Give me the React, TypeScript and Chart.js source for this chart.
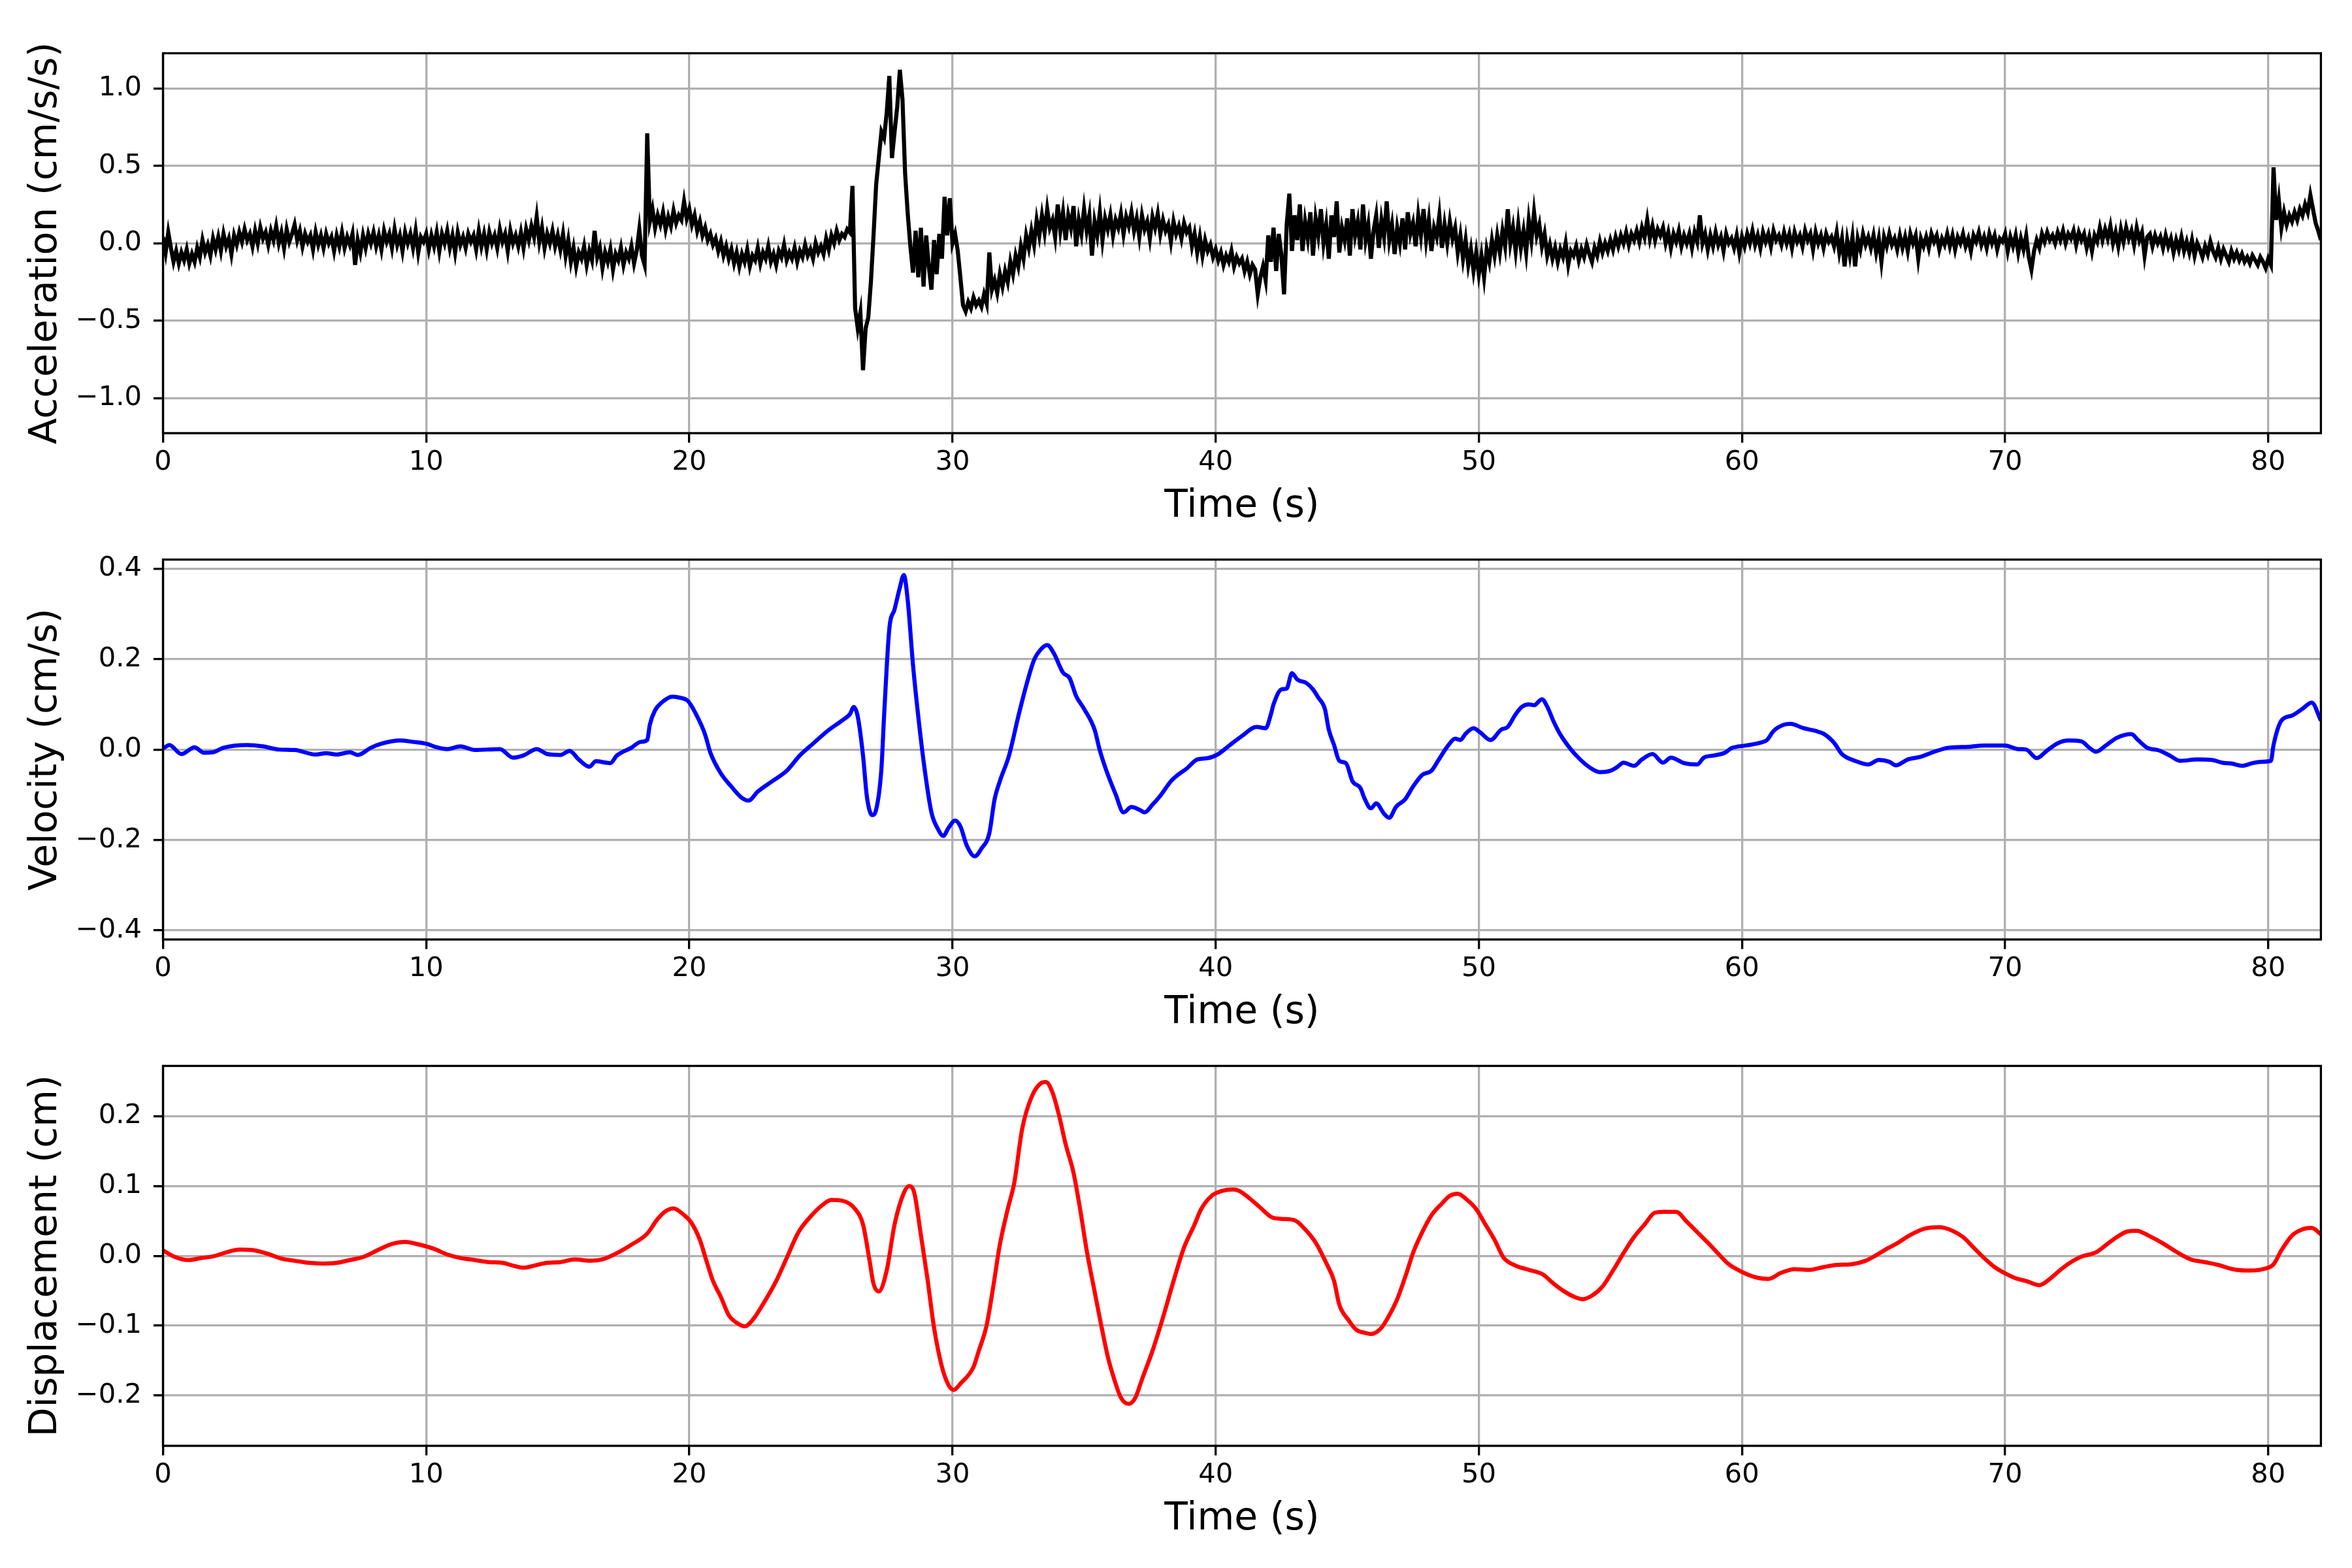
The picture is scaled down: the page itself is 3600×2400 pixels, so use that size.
import React, { useEffect, useRef } from 'react';
import { Chart, registerables } from 'chart.js';

Chart.register(...registerables);

// acceleration is sampled every 0.1 s from 0 to 82 s (one row = one second)
const accStep = 0.1;
const accValues = [
  0.04, -0.06, 0.07, -0.03, -0.12, -0.05, -0.13, -0.06, -0.11, -0.04,
  -0.13, -0.07, -0.12, -0.03, -0.09, 0.02, -0.06, -0.01, -0.08, 0.03,
  -0.04, 0.04, -0.05, 0.06, -0.02, 0.03, -0.07, 0.05, -0.01, 0.07,
  0.01, 0.09, 0.02, 0.06, -0.02, 0.08, 0.00, 0.10, 0.03, 0.07,
  -0.01, 0.08, 0.02, 0.11, 0.00, 0.07, -0.03, 0.09, 0.01, 0.06,
  0.12, 0.02, 0.08, -0.02, 0.06, 0.01, 0.05, -0.04, 0.07, -0.01,
  0.05, -0.03, 0.06, 0.00, 0.04, -0.05, 0.05, -0.02, 0.07, -0.03,
  0.04, -0.01, 0.06, -0.14, 0.02, -0.06, 0.05, -0.03, 0.06, 0.00,
  0.07, -0.02, 0.05, -0.04, 0.08, 0.01, 0.06, -0.03, 0.09, -0.01,
  0.05, -0.05, 0.07, 0.00, 0.06, -0.03, 0.08, -0.06, 0.04, 0.01,
  0.06, -0.04, 0.05, -0.02, 0.07, -0.05, 0.06, 0.00, 0.08, -0.03,
  0.05, -0.06, 0.07, -0.01, 0.04, -0.03, 0.06, 0.01, 0.05, -0.04,
  0.08, -0.02, 0.06, -0.04, 0.07, 0.00, 0.05, -0.03, 0.09, 0.01,
  0.06, -0.05, 0.08, 0.00, 0.05, -0.02, 0.07, -0.03, 0.09, 0.02,
  0.11, 0.04, 0.17, 0.01, 0.10, -0.03, 0.06, 0.00, 0.08, -0.02,
  0.05, -0.04, 0.06, -0.08, 0.02, -0.12, -0.03, -0.15, -0.06, -0.10,
  -0.02, -0.14, -0.05, -0.11, 0.08, -0.09, -0.03, -0.16, -0.06, -0.12,
  -0.04, -0.17, -0.07, -0.11, -0.03, -0.14, -0.06, -0.10, -0.02, -0.13,
  -0.05, 0.09, -0.08, -0.14, 0.71, 0.14, 0.22, 0.10, 0.18, 0.12,
  0.20, 0.09, 0.17, 0.11, 0.21, 0.13, 0.18, 0.15, 0.27, 0.16,
  0.22, 0.12, 0.18, 0.08, 0.14, 0.05, 0.10, 0.02, 0.06, -0.01,
  0.03, -0.05, 0.01, -0.08, -0.02, -0.10, -0.04, -0.13, -0.06, -0.15,
  -0.07, -0.12, -0.04, -0.15, -0.08, -0.11, -0.03, -0.13, -0.06, -0.10,
  -0.02, -0.12, -0.07, -0.14, -0.05, -0.09, -0.01, -0.11, -0.06, -0.10,
  -0.03, -0.12, -0.05, -0.09, -0.01, -0.08, -0.04, -0.10, 0.00, -0.06,
  -0.02, -0.07, 0.03, -0.04, 0.05, 0.00, 0.08, 0.02, 0.06, 0.04,
  0.09, 0.07, 0.37, -0.42, -0.55, -0.45, -0.82, -0.55, -0.48, -0.25,
  0.05, 0.38, 0.55, 0.72, 0.68, 0.84, 1.08, 0.55, 0.72, 0.88,
  1.12, 0.93, 0.45, 0.19, -0.02, -0.19, 0.08, -0.22, 0.10, -0.28,
  0.05, -0.15, -0.30, 0.02, -0.20, 0.06, -0.10, 0.30, 0.05, 0.29,
  0.00, 0.06, -0.05, -0.22, -0.40, -0.44, -0.38, -0.42, -0.35, -0.40,
  -0.37, -0.41, -0.33, -0.39, -0.06, -0.30, -0.24, -0.32, -0.20, -0.28,
  -0.18, -0.25, -0.12, -0.20, -0.08, -0.15, -0.02, -0.10, 0.05, -0.03,
  0.08, -0.01, 0.15, 0.05, 0.18, 0.07, 0.22, 0.10, 0.15, 0.04,
  0.25, 0.08, 0.20, 0.02, 0.18, 0.10, 0.24, -0.02, 0.15, 0.06,
  0.22, 0.08, 0.18, -0.08, 0.14, 0.05, 0.20, 0.02, 0.16, 0.09,
  0.18, 0.05, 0.15, 0.10, 0.19, 0.06, 0.17, 0.11, 0.20, 0.08,
  0.16, 0.04, 0.18, 0.09, 0.14, 0.03, 0.17, 0.10, 0.19, 0.06,
  0.15, 0.08, 0.12, 0.01, 0.14, 0.06, 0.11, 0.03, 0.13, 0.07,
  0.10, -0.02, 0.06, -0.06, 0.04, -0.08, 0.02, -0.05, -0.01, -0.09,
  -0.04, -0.11, -0.06, -0.14, -0.08, -0.12, -0.05, -0.15, -0.09, -0.13,
  -0.10, -0.18, -0.12, -0.20, -0.14, -0.17, -0.33, -0.22, -0.15, -0.24,
  0.05, -0.12, 0.10, -0.18, 0.06, -0.08, -0.33, 0.12, 0.32, -0.05,
  0.18, 0.02, 0.25, -0.05, 0.14, 0.03, 0.20, -0.08, 0.16, 0.05,
  0.22, 0.00, 0.12, -0.10, 0.18, 0.04, 0.27, -0.06, 0.10, 0.02,
  0.16, -0.08, 0.22, 0.05, 0.14, -0.04, 0.25, 0.02, 0.12, -0.10,
  0.08, 0.18, -0.03, 0.15, 0.04, 0.27, 0.02, 0.12, -0.07, 0.10,
  0.00, 0.16, -0.04, 0.20, 0.06, 0.13, -0.02, 0.18, 0.05, 0.22,
  0.02, 0.15, -0.05, 0.10, 0.04, 0.18, -0.03, 0.12, 0.00, 0.14,
  0.03, 0.10, -0.06, 0.05, -0.10, 0.02, -0.14, -0.04, -0.18, -0.06,
  -0.20, -0.08, -0.22, -0.04, -0.12, 0.02, -0.08, 0.05, -0.06, 0.08,
  -0.02, 0.22, 0.00, 0.10, -0.05, 0.12, -0.03, 0.08, -0.06, 0.15,
  0.02, 0.20, 0.05, 0.12, -0.02, 0.06, -0.08, -0.01, -0.10, -0.03,
  -0.12, -0.04, -0.09, 0.00, -0.14, -0.05, -0.08, -0.02, -0.11, -0.04,
  -0.09, -0.01, -0.07, -0.12, -0.03, -0.08, 0.01, -0.06, 0.00, -0.05,
  0.02, -0.04, 0.04, -0.02, 0.05, 0.00, 0.07, -0.01, 0.06, 0.02,
  0.08, 0.01, 0.10, 0.04, 0.15, 0.03, 0.11, 0.02, 0.09, 0.05,
  0.10, 0.00, 0.07, -0.03, 0.06, 0.01, 0.08, -0.02, 0.05, 0.00,
  0.06, -0.03, 0.07, 0.01, 0.18, 0.00, 0.06, -0.04, 0.05, -0.02,
  0.07, -0.01, 0.04, -0.05, 0.06, 0.00, 0.03, -0.03, 0.05, -0.06,
  0.04, -0.02, 0.06, 0.00, 0.08, -0.01, 0.05, -0.03, 0.07, 0.01,
  0.06, -0.02, 0.08, 0.02, 0.05, -0.01, 0.07, 0.00, 0.06, -0.03,
  0.07, 0.01, 0.05, -0.02, 0.08, 0.02, 0.06, -0.04, 0.07, 0.00,
  0.05, -0.03, 0.06, 0.01, 0.04, -0.02, 0.07, -0.06, 0.03, -0.15,
  0.02, -0.08, 0.04, -0.15, 0.03, -0.04, 0.06, -0.01, 0.04, -0.03,
  0.05, -0.06, 0.03, -0.12, 0.04, -0.02, 0.06, -0.01, 0.03, -0.04,
  0.05, -0.03, 0.04, -0.05, 0.06, 0.00, 0.05, -0.10, 0.03, -0.02,
  0.04, -0.03, 0.06, 0.01, 0.05, -0.04, 0.03, -0.01, 0.06, -0.02,
  0.05, -0.04, 0.04, 0.00, 0.06, -0.02, 0.03, -0.05, 0.05, 0.01,
  0.07, -0.01, 0.04, -0.03, 0.06, 0.00, 0.05, -0.04, 0.03, 0.01,
  0.06, -0.05, 0.04, -0.02, 0.05, -0.06, 0.03, -0.04, 0.05, -0.09,
  -0.17, -0.05, 0.02, -0.03, 0.06, 0.01, 0.07, 0.02, 0.05, 0.00,
  0.07, 0.02, 0.08, 0.00, 0.06, 0.03, 0.08, -0.01, 0.07, 0.02,
  0.06, -0.03, 0.04, -0.05, 0.05, 0.01, 0.10, 0.02, 0.09, 0.03,
  0.11, 0.00, 0.07, -0.02, 0.09, 0.01, 0.10, 0.03, 0.08, -0.01,
  0.10, 0.02, 0.07, -0.08, 0.04, 0.06, -0.02, 0.05, 0.00, 0.04,
  -0.03, 0.05, -0.02, 0.03, -0.06, 0.02, -0.04, 0.04, -0.05, 0.01,
  -0.06, 0.02, -0.08, 0.00, -0.04, -0.09, -0.02, -0.07, 0.01, -0.05,
  -0.09, -0.03, -0.10, -0.04, -0.08, -0.12, -0.05, -0.10, -0.06, -0.11,
  -0.07, -0.12, -0.09, -0.13, -0.08, -0.11, -0.14, -0.09, -0.12, -0.16,
  -0.10, -0.14, 0.49, 0.15, 0.28, 0.10, 0.20, 0.12, 0.18, 0.14,
  0.20, 0.15, 0.22, 0.18, 0.25, 0.20, 0.31, 0.22, 0.13, 0.08,
  0.02,
];

// [time (s), velocity (cm/s)]
const velPoints: [number, number][] = [
  [0, 0.002], [0.24, 0.01], [0.7, -0.01], [1.2, 0.005], [1.55, -0.007], [1.9, -0.006],
  [2.3, 0.004], [3.2, 0.01], [3.8, 0.007], [4.4, 0.0], [5.0, -0.001], [5.8, -0.011],
  [6.2, -0.008], [6.6, -0.011], [7.1, -0.006], [7.4, -0.012], [7.9, 0.004], [8.3, 0.013],
  [9.0, 0.02], [9.5, 0.017], [10.0, 0.013], [10.4, 0.005], [10.8, 0.001], [11.3, 0.007],
  [11.85, -0.001], [12.8, 0.001], [13.3, -0.018], [13.7, -0.013], [14.2, 0.001], [14.6, -0.01],
  [15.1, -0.012], [15.45, -0.003], [15.8, -0.022], [16.2, -0.038], [16.45, -0.026], [17.0, -0.03],
  [17.25, -0.013], [17.8, 0.004], [18.15, 0.017], [18.4, 0.021], [18.5, 0.055], [18.7, 0.087],
  [18.95, 0.104], [19.35, 0.117], [19.6, 0.115], [19.95, 0.107], [20.3, 0.073], [20.6, 0.033],
  [20.8, -0.007], [21.2, -0.053], [21.6, -0.082], [22.0, -0.107], [22.25, -0.113], [22.6, -0.093],
  [23.15, -0.07], [23.7, -0.047], [24.2, -0.013], [24.7, 0.013], [25.25, 0.041], [25.8, 0.064],
  [26.1, 0.078], [26.25, 0.094], [26.4, 0.073], [26.6, -0.013], [26.75, -0.105], [26.95, -0.145],
  [27.1, -0.133], [27.3, -0.042], [27.4, 0.073], [27.6, 0.267], [27.8, 0.31], [28.0, 0.358],
  [28.15, 0.386], [28.3, 0.33], [28.5, 0.187], [28.7, 0.073], [28.95, -0.047], [29.2, -0.139],
  [29.45, -0.176], [29.65, -0.191], [29.85, -0.173], [30.1, -0.157], [30.3, -0.17], [30.55, -0.213],
  [30.85, -0.236], [31.1, -0.219], [31.4, -0.185], [31.6, -0.11], [31.8, -0.07], [32.15, -0.013],
  [32.5, 0.073], [32.8, 0.141], [33.1, 0.198], [33.4, 0.224], [33.6, 0.231], [33.85, 0.213],
  [34.2, 0.17], [34.45, 0.158], [34.7, 0.118], [35.0, 0.09], [35.4, 0.044], [35.6, -0.002],
  [35.85, -0.047], [36.2, -0.099], [36.5, -0.139], [36.8, -0.127], [37.1, -0.133], [37.3, -0.139],
  [37.6, -0.122], [37.9, -0.102], [38.3, -0.07], [38.5, -0.059], [38.9, -0.042], [39.3, -0.022],
  [39.7, -0.019], [40.1, -0.01], [40.5, 0.008], [41.0, 0.03], [41.55, 0.05], [41.9, 0.047],
  [42.1, 0.078], [42.2, 0.1], [42.5, 0.133], [42.7, 0.135], [42.9, 0.169], [43.1, 0.155],
  [43.45, 0.147], [43.7, 0.133], [43.9, 0.115], [44.15, 0.09], [44.3, 0.044], [44.5, 0.01],
  [44.7, -0.025], [44.95, -0.03], [45.2, -0.07], [45.5, -0.085], [45.65, -0.107], [45.9, -0.13],
  [46.1, -0.119], [46.4, -0.142], [46.6, -0.151], [46.85, -0.127], [47.2, -0.11], [47.5, -0.082],
  [47.85, -0.056], [48.2, -0.047], [48.45, -0.025], [48.85, 0.01], [49.1, 0.024], [49.3, 0.021],
  [49.5, 0.035], [49.8, 0.047], [50.05, 0.038], [50.45, 0.021], [50.85, 0.044], [51.1, 0.05],
  [51.4, 0.078], [51.65, 0.095], [51.9, 0.1], [52.1, 0.098], [52.4, 0.111], [52.6, 0.095],
  [52.85, 0.061], [53.1, 0.033], [53.45, 0.004], [53.8, -0.019], [54.2, -0.039], [54.6, -0.05],
  [55.0, -0.047], [55.25, -0.039], [55.5, -0.029], [55.9, -0.036], [56.2, -0.022], [56.6, -0.01],
  [57.0, -0.029], [57.3, -0.018], [57.8, -0.03], [58.3, -0.033], [58.55, -0.018], [58.95, -0.013],
  [59.35, -0.007], [59.6, 0.003], [60.15, 0.009], [60.7, 0.015], [60.95, 0.021], [61.2, 0.041],
  [61.6, 0.055], [61.85, 0.057], [62.3, 0.048], [62.8, 0.041], [63.1, 0.035], [63.5, 0.015],
  [63.8, -0.01], [64.3, -0.025], [64.8, -0.033], [65.2, -0.023], [65.6, -0.027], [65.85, -0.035],
  [66.3, -0.022], [66.8, -0.016], [67.3, -0.005], [67.85, 0.004], [68.6, 0.006], [69.2, 0.009],
  [70.0, 0.009], [70.5, 0.001], [70.8, 0.0], [71.2, -0.019], [71.6, -0.002], [72.0, 0.014],
  [72.4, 0.02], [72.9, 0.018], [73.2, 0.004], [73.45, -0.005], [73.85, 0.01], [74.25, 0.026],
  [74.8, 0.034], [75.05, 0.021], [75.4, 0.004], [75.85, -0.002], [76.25, -0.013], [76.65, -0.025],
  [77.3, -0.022], [77.85, -0.023], [78.25, -0.029], [78.6, -0.031], [79.0, -0.036], [79.4, -0.03],
  [79.8, -0.027], [80.1, -0.025], [80.2, 0.01], [80.5, 0.064], [80.9, 0.075], [81.3, 0.09],
  [81.65, 0.104], [82.0, 0.064],
];

// [time (s), displacement (cm)]
const dispPoints: [number, number][] = [
  [0, 0.008], [0.42, -0.001], [0.95, -0.006], [1.47, -0.003], [1.87, -0.001], [2.4, 0.005],
  [2.9, 0.009], [3.45, 0.008], [3.97, 0.003], [4.5, -0.004], [5.0, -0.007], [5.55, -0.01],
  [6.07, -0.011], [6.6, -0.01], [7.1, -0.006], [7.65, -0.001], [8.2, 0.009], [8.7, 0.017],
  [9.2, 0.02], [9.75, 0.016], [10.3, 0.01], [10.8, 0.002], [11.3, -0.003], [11.85, -0.006],
  [12.4, -0.009], [12.9, -0.01], [13.3, -0.014], [13.7, -0.017], [14.1, -0.014], [14.6, -0.01],
  [15.1, -0.009], [15.65, -0.005], [16.2, -0.007], [16.7, -0.005], [17.25, 0.004], [17.8, 0.016],
  [18.4, 0.032], [18.8, 0.053], [19.1, 0.064], [19.4, 0.068], [19.75, 0.06], [20.05, 0.049],
  [20.4, 0.023], [20.65, -0.007], [20.9, -0.036], [21.2, -0.059], [21.5, -0.085], [21.85, -0.097],
  [22.1, -0.101], [22.4, -0.092], [22.85, -0.066], [23.3, -0.036], [23.7, -0.003], [24.15, 0.034],
  [24.6, 0.056], [25.0, 0.071], [25.4, 0.08], [25.8, 0.079], [26.3, 0.067], [26.6, 0.045],
  [26.85, -0.007], [27.0, -0.04], [27.2, -0.051], [27.5, -0.021], [27.8, 0.045], [28.15, 0.09],
  [28.35, 0.1], [28.55, 0.09], [28.8, 0.03], [29.05, -0.033], [29.3, -0.103], [29.6, -0.159],
  [29.85, -0.185], [30.05, -0.192], [30.3, -0.183], [30.8, -0.159], [31.0, -0.136], [31.3, -0.099],
  [31.55, -0.044], [31.8, 0.016], [32.1, 0.067], [32.35, 0.105], [32.65, 0.182], [33.0, 0.227],
  [33.35, 0.247], [33.55, 0.249], [33.8, 0.234], [34.05, 0.201], [34.3, 0.16], [34.6, 0.119],
  [34.85, 0.067], [35.1, 0.008], [35.4, -0.051], [35.65, -0.099], [35.9, -0.144], [36.15, -0.177],
  [36.4, -0.203], [36.7, -0.212], [36.95, -0.203], [37.2, -0.177], [37.6, -0.136], [38.0, -0.088],
  [38.4, -0.036], [38.8, 0.012], [39.2, 0.045], [39.45, 0.067], [39.85, 0.086], [40.25, 0.093],
  [40.65, 0.095], [40.9, 0.093], [41.3, 0.082], [41.7, 0.069], [42.1, 0.056], [42.5, 0.053],
  [43.0, 0.051], [43.4, 0.038], [43.8, 0.019], [44.2, -0.01], [44.5, -0.036], [44.7, -0.07],
  [45.05, -0.092], [45.35, -0.106], [45.65, -0.11], [45.9, -0.112], [46.3, -0.103], [46.6, -0.085],
  [46.9, -0.062], [47.25, -0.025], [47.5, 0.004], [47.8, 0.03], [48.2, 0.058], [48.6, 0.075],
  [48.9, 0.086], [49.2, 0.089], [49.5, 0.082], [49.9, 0.067], [50.25, 0.045], [50.6, 0.023],
  [50.95, -0.003], [51.4, -0.014], [51.9, -0.02], [52.45, -0.027], [52.85, -0.04], [53.25, -0.051],
  [53.65, -0.059], [53.95, -0.062], [54.3, -0.057], [54.7, -0.044], [55.1, -0.021], [55.5, 0.004],
  [55.9, 0.027], [56.3, 0.045], [56.7, 0.062], [57.1, 0.063], [57.5, 0.063], [57.9, 0.049],
  [58.3, 0.034], [58.7, 0.019], [59.1, 0.003], [59.5, -0.012], [60.0, -0.023], [60.55, -0.031],
  [61.0, -0.033], [61.5, -0.024], [62.0, -0.019], [62.55, -0.02], [63.1, -0.016], [63.6, -0.013],
  [64.15, -0.012], [64.7, -0.007], [65.1, 0.001], [65.5, 0.01], [65.85, 0.017], [66.4, 0.03],
  [66.95, 0.039], [67.5, 0.041], [68.0, 0.036], [68.4, 0.027], [68.8, 0.012], [69.2, -0.003],
  [69.6, -0.016], [70.0, -0.025], [70.4, -0.032], [70.8, -0.036], [71.3, -0.042], [71.7, -0.033],
  [72.1, -0.02], [72.5, -0.009], [72.9, -0.001], [73.45, 0.005], [73.85, 0.016], [74.25, 0.027],
  [74.65, 0.035], [75.0, 0.036], [75.45, 0.029], [75.95, 0.019], [76.5, 0.006], [77.05, -0.005],
  [77.6, -0.009], [78.1, -0.013], [78.65, -0.019], [79.3, -0.021], [79.8, -0.019], [80.2, -0.012],
  [80.5, 0.008], [80.9, 0.029], [81.3, 0.038], [81.65, 0.04], [82.0, 0.031],
];

const timeTicks = [0, 10, 20, 30, 40, 50, 60, 70, 80];
const accTicks = [-1.0, -0.5, 0.0, 0.5, 1.0];
const velTicks = [-0.4, -0.2, 0.0, 0.2, 0.4];
const dispTicks = [-0.2, -0.1, 0.0, 0.1, 0.2];

const PT = 300 / 72; // figure was rendered at 300 dpi
const FONT = "'DejaVu Sans', sans-serif";
const CANVAS_H = 830;

// matplotlib style minus sign on the tick labels
const fmt = (v: number) => {
  const s = v.toFixed(1);
  return s.startsWith('-') ? '\u2212' + s.slice(1) : s;
};

// draws the 4 spines around the plot area, on top of the line
const framePlugin = {
  id: 'frame',
  afterDatasetsDraw(chart: any) {
    const { ctx, chartArea: a } = chart;
    ctx.save();
    ctx.strokeStyle = '#000';
    ctx.lineWidth = 0.8 * PT;
    ctx.strokeRect(a.left, a.top, a.right - a.left, a.bottom - a.top);
    ctx.restore();
  },
};

interface PanelProps {
  top: number;
  data: { x: number; y: number }[];
  color: string;
  yLabel: string;
  yLimit: number;
  yTicks: number[];
  smooth: boolean;
}

function Panel({ top, data, color, yLabel, yLimit, yTicks, smooth }: PanelProps) {
  const canvasRef = useRef<HTMLCanvasElement | null>(null);

  useEffect(() => {
    if (!canvasRef.current) return;
    const grid = {
      color: '#b0b0b0',
      lineWidth: 0.8 * PT,
      tickColor: '#000',
      tickWidth: 0.8 * PT,
      tickLength: 3.5 * PT,
      drawTicks: true,
    };
    const chart = new Chart(canvasRef.current, {
      type: 'line',
      data: {
        datasets: [
          {
            data,
            borderColor: color,
            borderWidth: 1.5 * PT,
            pointRadius: 0,
            fill: false,
            tension: smooth ? 0.4 : 0,
            cubicInterpolationMode: smooth ? 'monotone' : 'default',
          },
        ],
      },
      options: {
        responsive: false,
        animation: false,
        devicePixelRatio: 1,
        events: [],
        layout: { padding: { top: 81.5, right: 47.6, left: 0, bottom: 0 } },
        plugins: { legend: { display: false }, tooltip: { enabled: false } },
        scales: {
          x: {
            type: 'linear',
            min: 0,
            max: 82,
            afterBuildTicks: (s: any) => {
              s.ticks = timeTicks.map((v) => ({ value: v }));
            },
            afterFit: (s: any) => {
              s.height = CANVAS_H - 81.5 - 581.5;
            },
            grid,
            border: { display: false },
            ticks: {
              color: '#000',
              font: { family: FONT, size: 10 * PT },
              padding: 6,
              maxRotation: 0,
              autoSkip: false,
              callback: (v: any) => String(v),
            },
            title: {
              display: true,
              text: 'Time (s)',
              color: '#000',
              font: { family: FONT, size: 14 * PT, lineHeight: 1.2 },
              padding: { top: 0, bottom: 19 },
            },
          },
          y: {
            type: 'linear',
            min: -yLimit,
            max: yLimit,
            afterBuildTicks: (s: any) => {
              s.ticks = yTicks.map((v) => ({ value: v }));
            },
            afterFit: (s: any) => {
              s.width = 249.5;
            },
            grid,
            border: { display: false },
            ticks: {
              color: '#000',
              font: { family: FONT, size: 10 * PT },
              padding: 18,
              autoSkip: false,
              callback: (v: any) => fmt(Number(v)),
            },
            title: {
              display: true,
              text: yLabel,
              color: '#000',
              font: { family: FONT, size: 14 * PT, lineHeight: 1.2 },
              padding: { top: 36, bottom: 0 },
            },
          },
        },
      } as any,
      plugins: [framePlugin],
    });
    return () => chart.destroy();
  }, [top, data, color, yLabel, yLimit, yTicks, smooth]);

  return (
    <canvas
      ref={canvasRef}
      width={3600}
      height={CANVAS_H}
      style={{ position: 'absolute', left: 0, top, width: 3600, height: CANVAS_H, display: 'block' }}
    />
  );
}

const accData = accValues.map((y, i) => ({ x: i * accStep, y }));
const velData = velPoints.map(([x, y]) => ({ x, y }));
const dispData = dispPoints.map(([x, y]) => ({ x, y }));

export default function App() {
  useEffect(() => {
    document.body.style.margin = '0';
  }, []);

  return (
    <div style={{ position: 'relative', width: 3600, height: 2400, background: '#fff', overflow: 'hidden' }}>
      <Panel top={0} data={accData} color="#000000" yLabel="Acceleration (cm/s/s)" yLimit={1.227} yTicks={accTicks} smooth={false} />
      <Panel top={775} data={velData} color="#0000ff" yLabel="Velocity (cm/s)" yLimit={0.42} yTicks={velTicks} smooth={true} />
      <Panel top={1550} data={dispData} color="#ff0000" yLabel="Displacement (cm)" yLimit={0.272} yTicks={dispTicks} smooth={true} />
    </div>
  );
}
